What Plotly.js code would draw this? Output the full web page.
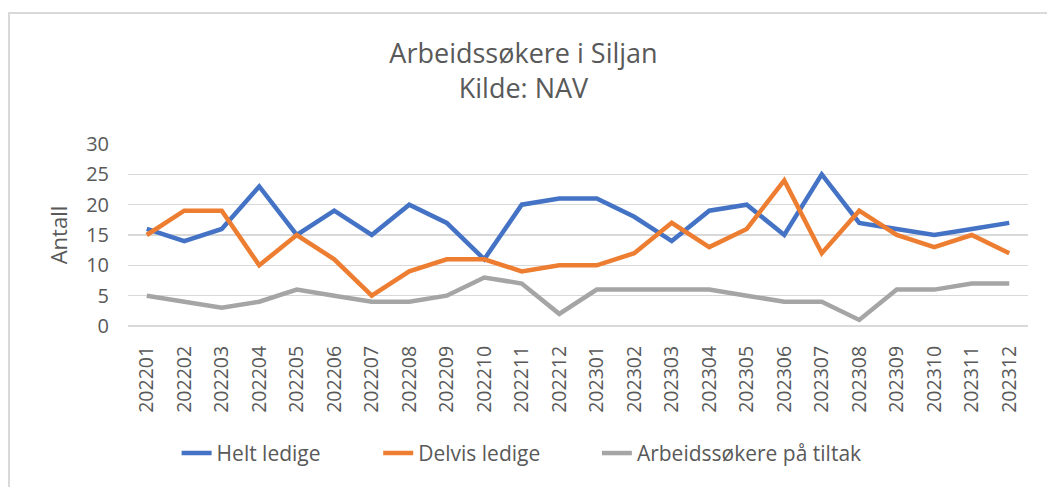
<!DOCTYPE html>
<html>
<head>
<meta charset="utf-8">
<script src="https://cdn.plot.ly/plotly-3.0.1.min.js"></script>
<style>
html,body{margin:0;padding:0;background:#fff;}
#wrap{position:relative;width:1047px;height:487px;}
#chart{width:1047px;height:487px;}
#frame{position:absolute;left:8px;top:12px;right:-2px;bottom:-2px;border:2px solid #d9d9d9;pointer-events:none;}
</style>
</head>
<body>
<div id="wrap"><div id="chart"></div><div id="frame"></div></div>
<script>
const months = ["202201","202202","202203","202204","202205","202206","202207","202208","202209","202210","202211","202212",
"202301","202302","202303","202304","202305","202306","202307","202308","202309","202310","202311","202312"];
const heltLedige = [16,14,16,23,15,19,15,20,17,11,20,21,21,18,14,19,20,15,25,17,16,15,16,17];
const delvisLedige = [15,19,19,10,15,11,5,9,11,11,9,10,10,12,17,13,16,24,12,19,15,13,15,12];
const tiltak = [5,4,3,4,6,5,4,4,5,8,7,2,6,6,6,6,5,4,4,1,6,6,7,7];
const seriesNames = ["Helt ledige","Delvis ledige","Arbeidssøkere på tiltak"];
const colors = ["#4472C4","#ED7D31","#A5A5A5"];
const yTicks = [0,5,10,15,20,25,30];

const font = "Open Sans, Noto Sans, sans-serif";
const legendIds = ["legend","legend2","legend3"];
const legendX = [0.054, 0.278, 0.521];
const data = [heltLedige, delvisLedige, tiltak].map((y,i)=>({
  x: months, y: y, type: "scatter", mode: "lines", name: seriesNames[i],
  legend: legendIds[i],
  line: {color: colors[i], width: 4.5, shape: "linear"}
}));

const layout = {
  width: 1047, height: 487,
  margin: {l: 128, r: 19, t: 144, b: 161},
  paper_bgcolor: "#fff", plot_bgcolor: "#fff",
  font: {family: font, color: "#595959"},
  title: {text: "Arbeidssøkere i Siljan<br>Kilde: NAV", x: 0.5, xanchor: "center",
          yref: "container", y: 1 - 63/487, yanchor: "top",
          font: {family: font, size: 27, color: "#595959"}},
  xaxis: {type: "category", tickangle: -90, tickfont: {size: 19.5, color: "#595959"}, showgrid: false,
          showline: false, zeroline: false, ticks: "", range: [-0.5, 23.5], ticklabelstandoff: 15},
  yaxis: {range: [0, 30], tickvals: yTicks, ticktext: yTicks.map(String), showgrid: true, gridcolor: "#d9d9d9", gridwidth: 1.5,
          zeroline: true, zerolinecolor: "#d9d9d9", zerolinewidth: 1.5, showline: false, ticks: "",
          tickfont: {size: 20, color: "#595959"}, ticklabelstandoff: 18,
          title: {text: "Antall", font: {size: 22, color: "#595959"}, standoff: 12}},
  showlegend: true
};
legendIds.forEach((id,i)=>{
  layout[id] = {orientation: "h", x: legendX[i], xanchor: "left", y: -0.70, yanchor: "middle",
                font: {size: 21, color: "#595959"}, bgcolor: "rgba(0,0,0,0)"};
});
Plotly.newPlot("chart", data, layout, {displayModeBar: false, staticPlot: true});
</script>
</body>
</html>
